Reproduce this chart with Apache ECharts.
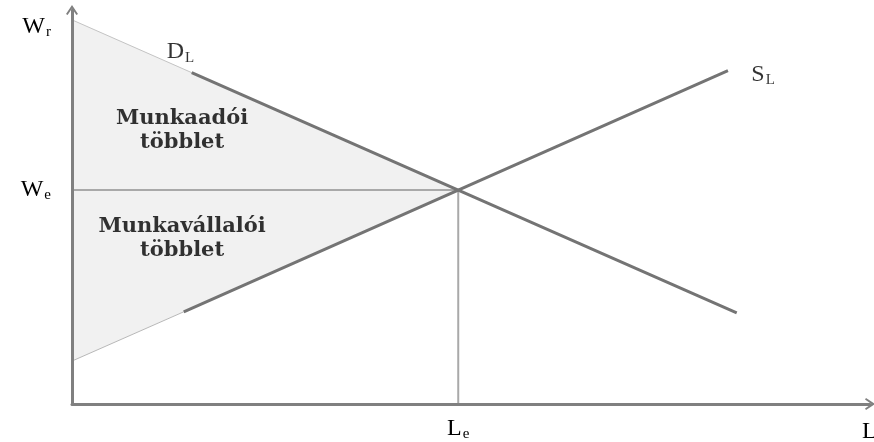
<!DOCTYPE html>
<html>
<head>
<meta charset="utf-8">
<script src="https://cdn.jsdelivr.net/npm/echarts@6/dist/echarts.min.js"></script>
<style>
  html, body { margin: 0; padding: 0; background: #fff; }
  #main { width: 874px; height: 442px; }
</style>
</head>
<body>
<div id="main"></div>
<script>
// munkapiac: keresleti (D) es kinalati (S) gorbe, egyensuly (Le, We)
var eqPoint = [48.4, 54.3];
var demandFaint = [[0, 97.5], [15, 84.1]];
var demandLine = [[15, 84.1], [48.4, 54.3], [83.3, 23.1]];
var supplyFaint = [[0, 10.9], [14, 23.4]];
var supplyLine = [[14, 23.4], [48.4, 54.3], [82.2, 84.6]];
var surplusArea = [[0, 97.5], [48.4, 54.3], [0, 10.9]];
var weLine = [[0, 54.3], [48.4, 54.3]];
var leLine = [[48.4, 54.3], [48.4, 0]];
var yTicks = [54.3, 95.7];
var yTickNames = ['e', 'r'];
var xTicks = [48.4];
var curveLabels = [
  [13.6, 89.3, 'D'],
  [86.6, 83.5, 'S']
];
var areaLabels = [
  [13.8, 69.3, 'Munkaadói\ntöbblet'],
  [13.8, 42.1, 'Munkavállalói\ntöbblet']
];

var serif = 'Liberation Serif';
var arrow = 'path://M0,9 L6,0 L12,9 L10.4,10 L6,3.6 L1.6,10 Z';
var richSub = {
  m: { fontFamily: serif, fontSize: 24, color: '#000', textBorderWidth: 0 },
  s: { fontFamily: serif, fontSize: 15, color: '#000', textBorderWidth: 0, padding: [11, 0, 0, 1] }
};

var myChart = echarts.init(document.getElementById('main'));

var option = {
  backgroundColor: '#fff',
  animation: false,
  grid: {
    left: 72,
    right: 4,
    top: 10,
    bottom: 38,
    containLabel: false,
    outerBoundsMode: 'none'
  },
  xAxis: {
    type: 'value',
    min: 0,
    max: 100,
    z: 10,
    splitLine: { show: false },
    axisTick: { show: false },
    axisLine: {
      lineStyle: { color: '#808080', width: 3 },
      symbol: ['none', arrow],
      symbolSize: [12, 10]
    },
    axisLabel: {
      customValues: xTicks,
      margin: 12,
      formatter: function () { return '{m|L}{s|e}'; },
      rich: richSub
    },
    name: 'L',
    nameLocation: 'end',
    nameGap: -8,
    nameTextStyle: {
      fontFamily: serif, fontSize: 24, color: '#000',
      align: 'left', verticalAlign: 'top', padding: [16, 0, 0, 0]
    }
  },
  yAxis: {
    type: 'value',
    min: 0,
    max: 100,
    z: 10,
    splitLine: { show: false },
    axisTick: { show: false },
    axisLine: {
      lineStyle: { color: '#808080', width: 3 },
      symbol: ['none', arrow],
      symbolSize: [12, 10]
    },
    axisLabel: {
      customValues: yTicks,
      margin: 21,
      formatter: function (v) {
        return '{m|W}{s|' + yTickNames[yTicks.indexOf(v)] + '}';
      },
      rich: richSub
    }
  },
  series: [
    {
      type: 'custom',
      data: surplusArea,
      silent: true,
      z: 1,
      renderItem: function (params, api) {
        if (params.dataIndex !== 0) return;
        var pts = surplusArea.map(function (p) { return api.coord(p); });
        return {
          type: 'polygon',
          shape: { points: pts },
          style: { fill: '#f1f1f1', stroke: 'none' }
        };
      }
    },
    {
      type: 'line', data: weLine, symbol: 'none', z: 2,
      lineStyle: { color: '#a9a9a9', width: 2 }
    },
    {
      type: 'line', data: leLine, symbol: 'none', z: 2,
      lineStyle: { color: '#a9a9a9', width: 2 }
    },
    {
      type: 'line', data: demandFaint, symbol: 'none', z: 3,
      lineStyle: { color: '#c4c4c4', width: 1 }
    },
    {
      type: 'line', data: supplyFaint, symbol: 'none', z: 3,
      lineStyle: { color: '#b8b8b8', width: 1 }
    },
    {
      type: 'line', data: demandLine, symbol: 'none', z: 4,
      lineStyle: { color: '#747474', width: 3 }
    },
    {
      type: 'line', data: supplyLine, symbol: 'none', z: 4,
      lineStyle: { color: '#747474', width: 3 }
    },
    {
      type: 'scatter',
      data: curveLabels,
      symbolSize: 0,
      clip: false,
      z: 5,
      label: {
        show: true,
        position: 'inside',
        textBorderWidth: 0,
        formatter: function (p) { return '{m|' + p.data[2] + '}{s|L}'; },
        rich: richSub
      }
    },
    {
      type: 'scatter',
      data: areaLabels,
      symbolSize: 0,
      clip: false,
      z: 5,
      label: {
        show: true,
        position: 'inside',
        align: 'center',
        verticalAlign: 'middle',
        formatter: function (p) { return p.data[2]; },
        fontFamily: 'DejaVu Serif',
        fontWeight: 'bold',
        fontSize: 21,
        lineHeight: 24,
        color: '#000',
        textBorderWidth: 0
      }
    }
  ]
};

myChart.setOption(option);
window.onresize = myChart.resize;
</script>
</body>
</html>
